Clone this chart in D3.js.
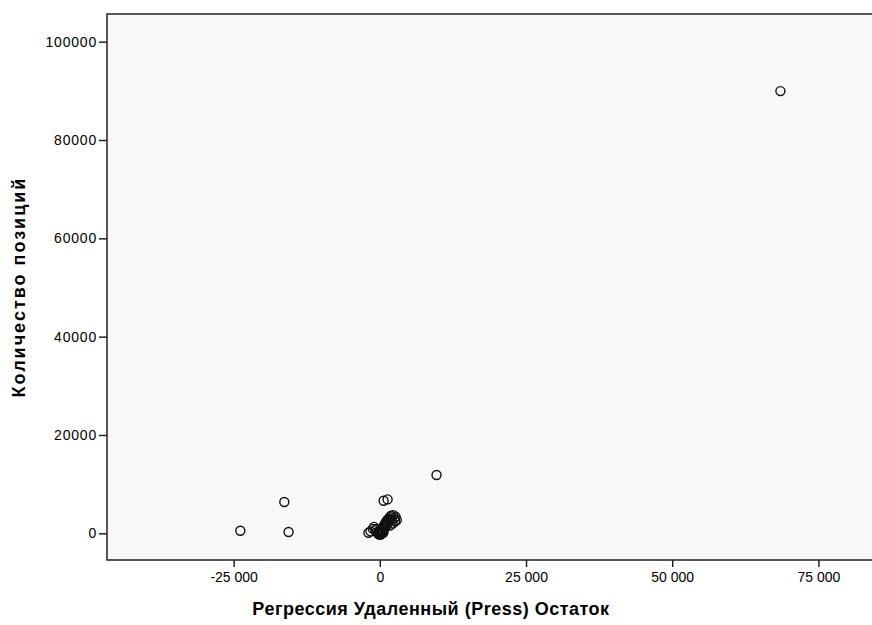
<!DOCTYPE html>
<html>
<head>
<meta charset="utf-8">
<script src="https://cdn.jsdelivr.net/npm/d3@7"></script>
<style>
  body { margin: 0; background: #fff; }
  text { font-family: "Liberation Sans", Arial, sans-serif; fill: #000; }
</style>
</head>
<body>
<svg id="chart" width="872" height="625"></svg>
<script>
// residuals (x) vs number of positions (y)
var residX = [68500, 9700, -23850, -16330, -15600, 650, 1330,
  -1950, -1600, -1200, -1000, -800, -500, -300, -100, 0, 100, 200, 300, 400, 500,
  600, 700, 800, 900, 1000, 1100, 1200, 1300, 1400, 1500, 1600, 1800, 2000, 2300,
  2500, 2900, 2700, 100, -200, 300, 50, 600, -600, 1800, 2200, 1900, 2600];
var positionsY = [89950, 11850, 530, 6370, 260, 6630, 6900,
  100, 400, 900, 1300, 600, 200, 0, 300, 100, -300, 500, 200, 800, 1200,
  400, 1600, 1000, 2000, 1400, 2400, 1800, 2700, 2200, 3000, 2500, 3300, 2800, 3700,
  3100, 2700, 3400, 50, -200, -100, 700, 100, 900, 1600, 2000, 3600, 2400];

var xTicks = [-25000, 0, 25000, 50000, 75000];
var yTicks = [0, 20000, 40000, 60000, 80000, 100000];

var xTitle = "Регрессия Удаленный (Press) Остаток";
var yTitle = "Количество позиций";

var svg = d3.select("#chart");
var pLeft = 107, pTop = 14, pRight = 890, pBottom = 560;

var x = d3.scaleLinear().domain([-46650, 87240]).range([pLeft, pRight]);
var y = d3.scaleLinear().domain([-5430, 105630]).range([pBottom, pTop]);

// plot background
svg.append("rect")
   .attr("x", pLeft).attr("y", pTop)
   .attr("width", pRight - pLeft).attr("height", pBottom - pTop)
   .attr("fill", "#f8f8f8")
   .attr("stroke", "#222")
   .attr("stroke-width", 1.5);

var fmtX = function(d) {
  if (d === 0) return "0";
  var s = Math.abs(d).toString();
  var out = s.slice(0, s.length - 3) + " " + s.slice(-3);
  return (d < 0 ? "-" : "") + out;
};

var xAxis = svg.append("g")
   .attr("transform", "translate(0," + pBottom + ")")
   .call(d3.axisBottom(x).tickValues(xTicks).tickFormat(fmtX).tickSize(7).tickPadding(5));
var yAxis = svg.append("g")
   .attr("transform", "translate(" + pLeft + ",0)")
   .call(d3.axisLeft(y).tickValues(yTicks).tickFormat(d3.format("d")).tickSize(8).tickPadding(2));

[xAxis, yAxis].forEach(function(g) {
  g.select(".domain").remove();
  g.selectAll(".tick line").attr("stroke", "#222").attr("stroke-width", 1.5);
  g.selectAll(".tick text").attr("font-size", 14).attr("fill", "#111")
   .style("font-family", "'Liberation Sans', Arial, sans-serif");
});
yAxis.selectAll(".tick text").style("letter-spacing", "0.8px");

// points
svg.append("g")
   .selectAll("circle")
   .data(residX.map(function(v, i) { return [v, positionsY[i]]; }))
   .enter()
   .append("circle")
   .attr("cx", function(d) { return x(d[0]); })
   .attr("cy", function(d) { return y(d[1]); })
   .attr("r", 4.5)
   .attr("fill", "none")
   .attr("stroke", "#111")
   .attr("stroke-width", 1.4);

svg.append("text")
   .attr("x", 431).attr("y", 615)
   .attr("text-anchor", "middle")
   .attr("font-size", 18).attr("font-weight", "bold")
   .style("letter-spacing", "0.5px")
   .text(xTitle);

svg.append("text")
   .attr("transform", "translate(25,287) rotate(-90)")
   .attr("text-anchor", "middle")
   .attr("font-size", 18).attr("font-weight", "bold")
   .style("letter-spacing", "2px")
   .text(yTitle);
</script>
</body>
</html>
